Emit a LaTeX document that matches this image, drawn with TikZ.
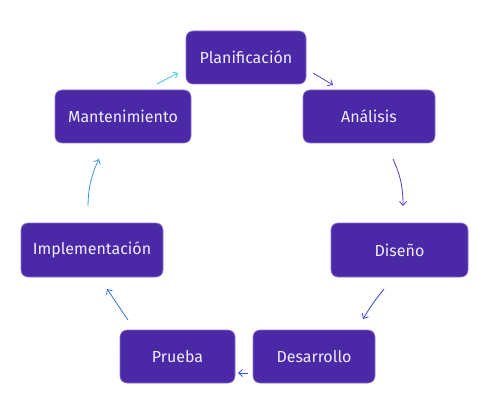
\documentclass[tikz,border=0pt]{standalone}
\usepackage{fontspec}
\setmainfont{Fira Sans}
\usetikzlibrary{arrows.meta}
\definecolor{boxfill}{HTML}{4B28A6}
\definecolor{boxline}{HTML}{8B72D2}
\definecolor{boxtext}{HTML}{F0ECFF}
\definecolor{c1}{HTML}{5A3DC0}
\definecolor{c2}{HTML}{4B3CC8}
\definecolor{c3}{HTML}{3345D0}
\definecolor{c4}{HTML}{2F55D8}
\definecolor{c5}{HTML}{2E6FD8}
\definecolor{c6}{HTML}{3A95E5}
\definecolor{c7}{HTML}{3EC5EA}
\begin{document}
\begin{tikzpicture}[x=1pt,y=-1pt,
  phase/.style={draw=boxline, line width=0.6pt, fill=boxfill, rounded corners=7pt,
    text=boxtext, font=\fontsize{16}{18}\selectfont, inner sep=0pt, anchor=center},
  flow/.style={line width=0.8pt, -{Straight Barb[length=4pt,width=7pt]}}]
\useasboundingbox (0,0) rectangle (479,401);
\node[phase, minimum width=120pt, minimum height=53pt] (plan) at (246,57.5) {Planificación};
\node[phase, minimum width=132pt, minimum height=53pt] (anal) at (369,116.5) {Análisis};
\node[phase, minimum width=137pt, minimum height=54pt] (dise) at (399.5,250) {Diseño};
\node[phase, minimum width=122pt, minimum height=53pt] (desa) at (314,356.5) {Desarrollo};
\node[phase, minimum width=115pt, minimum height=53pt] (prue) at (177.5,356.5) {Prueba};
\node[phase, minimum width=142pt, minimum height=54pt] (impl) at (92,250) {Implementación};
\node[phase, minimum width=136pt, minimum height=53pt] (mant) at (123,116.5) {Mantenimiento};
\coordinate (a1s) at (313,73);  \coordinate (a1e) at (333,85);
\coordinate (a2s) at (393,159); \coordinate (a2e) at (403,206);
\coordinate (a3s) at (384,289); \coordinate (a3e) at (363,319);
\coordinate (a4s) at (248,373); \coordinate (a4e) at (238,373);
\coordinate (a5s) at (128,320); \coordinate (a5e) at (107,289);
\coordinate (a6s) at (88,206);  \coordinate (a6e) at (99,159);
\coordinate (a7s) at (157,84);  \coordinate (a7e) at (178,73);
\draw[flow, c1] (a1s) -- (a1e);
\draw[flow, c2] (a2s) to[bend left=12] (a2e);
\draw[flow, c3] (a3s) to[bend right=4] (a3e);
\draw[flow, c4] (a4s) -- (a4e);
\draw[flow, c5] (a5s) -- (a5e);
\draw[flow, c6] (a6s) to[bend left=12] (a6e);
\draw[flow, c7] (a7s) -- (a7e);
\end{tikzpicture}
\end{document}
